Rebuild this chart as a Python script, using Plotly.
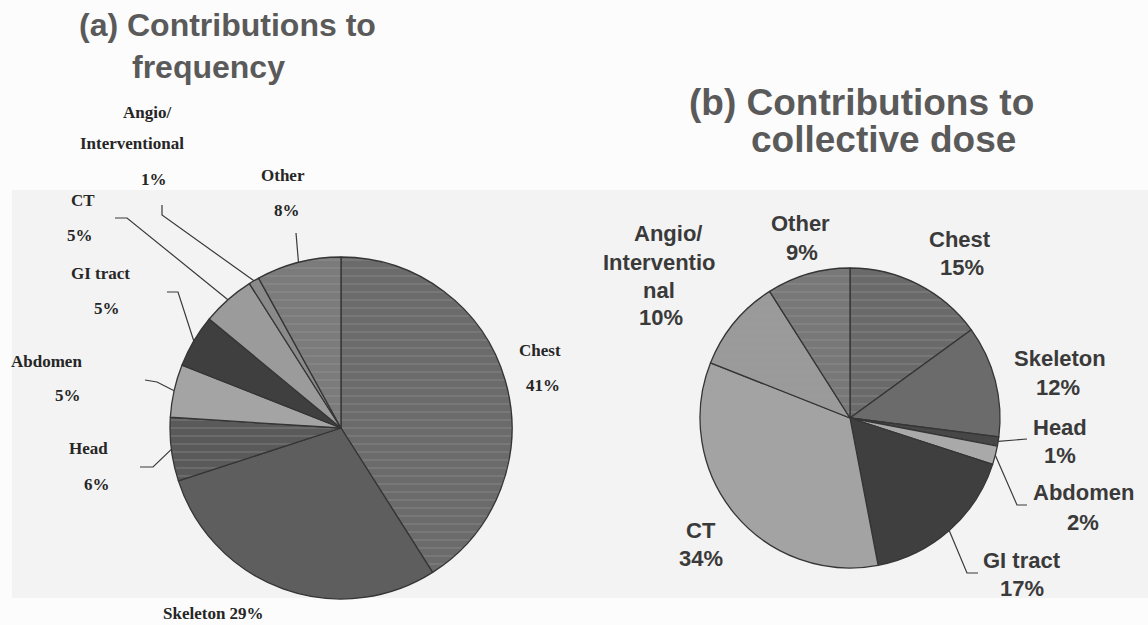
import math
import plotly.graph_objects as go

# ---- data -------------------------------------------------------------
categories_a = ["Chest", "Skeleton", "Head", "Abdomen", "GI tract", "CT",
                "Angio/Interventional", "Other"]
share_a = [41, 29, 6, 5, 5, 5, 1, 8]          # % of examinations

categories_b = ["Chest", "Skeleton", "Head", "Abdomen", "GI tract", "CT",
                "Angio/Interventional", "Other"]
share_b = [15, 12, 1, 2, 17, 34, 10, 9]        # % of collective dose

# how each category name is broken over lines in the labels
name_lines_a = [["Chest"], ["Skeleton"], ["Head"], ["Abdomen"], ["GI tract"],
                ["CT"], ["Angio/", "Interventional"], ["Other"]]
name_lines_b = [["Chest"], ["Skeleton"], ["Head"], ["Abdomen"], ["GI tract"],
                ["CT"], ["Angio/", "Interventio", "nal"], ["Other"]]

title_a = ["(a) Contributions to", "frequency"]
title_b = ["(b) Contributions to", "collective dose"]

# ---- styling / layout -------------------------------------------------
W, H = 1148, 625

colors_a = ["#6b6b6b", "#5e5e5e", "#5a5a5a", "#a4a4a4", "#3f3f3f", "#9b9b9b",
            "#8a8a8a", "#7b7b7b"]
stripes_a = ["-", "", "-", "", "", "", "", "-"]
colors_b = ["#6a6a6a", "#6b6b6b", "#474747", "#a9a9a9", "#3f3f3f", "#a3a3a3",
            "#9a9a9a", "#787878"]
stripes_b = ["-", "", "", "", "", "", "-", "-"]

# pie geometry in pixels: centre x, centre y, radius
geom_a = (341, 428, 171)
geom_b = (850, 418, 150)

# label line positions (pixels); one entry per printed line
label_pos_a = [
    [(540, 350), (543, 385)],                 # Chest
    [(213, 613)],                             # Skeleton (single line)
    [(88, 448), (97, 484)],                   # Head
    [(47, 361), (68, 395)],                   # Abdomen
    [(100, 273), (107, 308)],                 # GI tract
    [(83, 200), (80, 235)],                   # CT
    [(147, 112), (132, 143), (154, 179)],     # Angio
    [(283, 175), (287, 210)],                 # Other
]
label_pos_b = [
    [(960, 239), (962, 267)],
    [(1060, 358), (1058, 387)],
    [(1060, 427), (1060, 455)],
    [(1083, 493), (1083, 522)],
    [(1022, 560), (1022, 588)],
    [(701, 530), (701, 558)],
    [(668, 233), (659, 262), (659, 290), (661, 317)],
    [(800, 223), (802, 252)],
]

# leader line vertices on the label side (pixels); the pie end is computed
leader_a = {2: [(140, 467), (153, 467)], 3: [(145, 380), (157, 382)],
            4: [(167, 292), (178, 292)], 5: [(115, 218), (127, 218)],
            6: [(162, 205), (162, 215)], 7: [(296, 233)]}
leader_b = {2: [(1027, 439)], 3: [(1027, 505), (1017, 505)],
            4: [(978, 573), (967, 573)]}


def px(x, y):
    return x / W, 1 - y / H


def domain(geom):
    cx, cy, r = geom
    return dict(x=[(cx - r) / W, (cx + r) / W], y=[1 - (cy + r) / H, 1 - (cy - r) / H])


def edge_point(values, idx, geom):
    """Point on the rim at the middle of slice idx (clockwise from 12 o'clock)."""
    cx, cy, r = geom
    total = sum(values)
    mid = (sum(values[:idx]) + values[idx] / 2) / total * 2 * math.pi
    return cx + r * math.sin(mid), cy - r * math.cos(mid)


def pie_trace(values, cats, colors, stripes, geom):
    return go.Pie(
        values=values, labels=cats, sort=False, direction="clockwise", rotation=0,
        textinfo="none", hoverinfo="label+percent", showlegend=False,
        domain=domain(geom),
        marker=dict(
            colors=colors,
            line=dict(color="#353535", width=1.3),
            pattern=dict(shape=stripes, fgcolor="#a0a0a0", fgopacity=0.35,
                         size=8, solidity=0.18, fillmode="overlay"),
        ),
    )


fig = go.Figure()
fig.add_trace(pie_trace(share_a, categories_a, colors_a, stripes_a, geom_a))
fig.add_trace(pie_trace(share_b, categories_b, colors_b, stripes_b, geom_b))

shapes = [
    # faint grey band of the printed page behind the charts
    dict(type="rect", xref="paper", yref="paper", layer="below",
         x0=12 / W, x1=1, y0=1 - 598 / H, y1=1 - 190 / H,
         fillcolor="#f3f3f3", line=dict(width=0)),
]


def add_leaders(values, leaders, geom):
    for idx, pts in leaders.items():
        ex, ey = edge_point(values, idx, geom)
        path_pts = pts + [(ex, ey)]
        d = ""
        for k, (x, y) in enumerate(path_pts):
            u, v = px(x, y)
            d += ("M" if k == 0 else "L") + f"{u:.5f},{v:.5f} "
        shapes.append(dict(type="path", xref="paper", yref="paper", path=d,
                           line=dict(color="#3a3a3a", width=1.2)))


add_leaders(share_a, leader_a, geom_a)
add_leaders(share_b, leader_b, geom_b)

annotations = []


def add_labels(values, name_lines, positions, font):
    for names, val, pos in zip(name_lines, values, positions):
        pct = f"{val}%"
        if len(pos) == 1:
            lines = [" ".join(names + [pct])]
        else:
            lines = names + [pct]
        for text, (x, y) in zip(lines, pos):
            u, v = px(x, y)
            annotations.append(dict(text=f"<b>{text}</b>", x=u, y=v, xref="paper",
                                    yref="paper", showarrow=False, xanchor="center",
                                    yanchor="middle", font=font))


font_a = dict(family="Liberation Serif", size=17, color="#262626")
font_b = dict(family="Liberation Sans", size=22, color="#3a3a3a")
add_labels(share_a, name_lines_a, label_pos_a, font_a)
add_labels(share_b, name_lines_b, label_pos_b, font_b)

# titles
for text, (x, y), size in [(title_a[0], (227, 25), 32), (title_a[1], (208, 67), 32),
                           (title_b[0], (861, 102), 37), (title_b[1], (883, 140), 37)]:
    u, v = px(x, y)
    annotations.append(dict(text=f"<b>{text}</b>", x=u, y=v, xref="paper", yref="paper",
                            showarrow=False, xanchor="center", yanchor="middle",
                            font=dict(family="Liberation Sans", size=size, color="#5a5a5a")))

fig.update_layout(
    width=W, height=H, margin=dict(l=0, r=0, t=0, b=0),
    paper_bgcolor="#fcfcfc", plot_bgcolor="#fcfcfc",
    shapes=shapes, annotations=annotations,
)

fig.write_html("out.html")
